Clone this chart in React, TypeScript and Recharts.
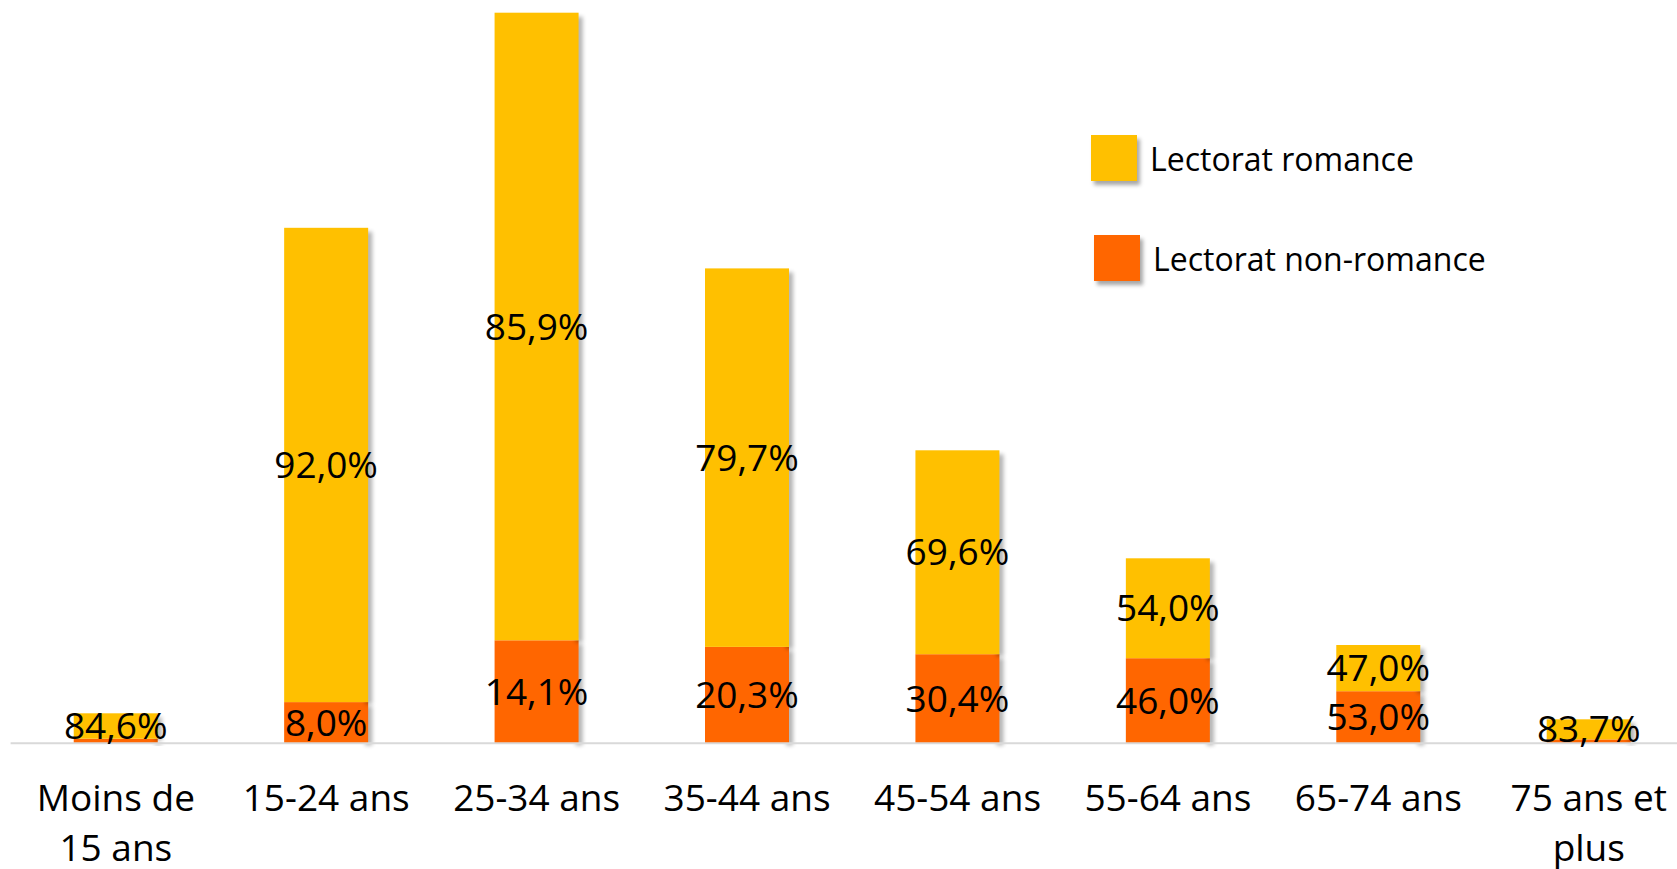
import { BarChart, Bar, XAxis, YAxis, LabelList, Legend } from "recharts";

const categories = [
  "Moins de 15 ans",
  "15-24 ans",
  "25-34 ans",
  "35-44 ans",
  "45-54 ans",
  "55-64 ans",
  "65-74 ans",
  "75 ans et plus",
];
const tickLines = [
  ["Moins de", "15 ans"],
  ["15-24 ans"],
  ["25-34 ans"],
  ["35-44 ans"],
  ["45-54 ans"],
  ["55-64 ans"],
  ["65-74 ans"],
  ["75 ans et", "plus"],
];
const romance = [25.4, 474.3, 627.6, 378.5, 203.9, 99.9, 46.2, 20.1];
const nonRomance = [4.6, 41.2, 103.0, 96.4, 89.1, 85.1, 52.1, 3.9];
const romanceLabels = ["84,6%", "92,0%", "85,9%", "79,7%", "69,6%", "54,0%", "47,0%", "83,7%"];
const nonRomanceLabels = ["", "8,0%", "14,1%", "20,3%", "30,4%", "46,0%", "53,0%", ""];

const colors = {
  romance: "#FFC000",
  nonRomance: "#FF6600",
  axis: "#D9D9D9",
  text: "#000000",
};

const data = categories.map((c, i) => ({
  name: c,
  romance: romance[i],
  nonRomance: nonRomance[i],
  romanceLabel: romanceLabels[i],
  nonRomanceLabel: nonRomanceLabels[i],
}));

const ShadowBar = (props: any) => {
  const { x, y, width, height, fill } = props;
  if (!height || height <= 0) return null;
  return (
    <g>
      <rect
        x={x + width - 3}
        y={y + 4}
        width={7}
        height={Math.max(height - 2, 0)}
        fill="#000"
        opacity={0.3}
        filter="url(#barShadow)"
      />
      <rect x={x} y={y} width={width} height={height} fill={fill} />
    </g>
  );
};

const CategoryTick = (props: any) => {
  const { x, y, index } = props;
  const lines = tickLines[index] || [String(props.payload?.value)];
  return (
    <text
      x={x}
      y={y + 68}
      textAnchor="middle"
      fill={colors.text}
      fontSize={37}
      fontFamily="'Open Sans', sans-serif"
    >
      {lines.map((l: string, i: number) => (
        <tspan key={i} x={x} dy={i === 0 ? 0 : 50}>
          {l}
        </tspan>
      ))}
    </text>
  );
};

const legendOrder = ["Lectorat romance", "Lectorat non-romance"];

const LegendContent = (props: any) => {
  const items = [...(props.payload || [])].sort(
    (a: any, b: any) => legendOrder.indexOf(a.value) - legendOrder.indexOf(b.value)
  );
  return (
    <div style={{ fontFamily: "'Open Sans', sans-serif" }}>
      {items.map((it: any, i: number) => (
        <div
          key={it.value}
          style={{
            display: "flex",
            alignItems: "center",
            height: 46,
            marginTop: i === 0 ? 0 : 54,
            marginLeft: i * 3,
          }}
        >
          <div
            style={{
              width: 46,
              height: 46,
              background: it.color,
              boxShadow: "3px 4px 4px rgba(0,0,0,0.35)",
              marginRight: 13,
            }}
          />
          <span style={{ fontSize: 32, color: colors.text, whiteSpace: "nowrap" }}>
            {it.value}
          </span>
        </div>
      ))}
    </div>
  );
};

export default function App() {
  return (
    <div
      style={{
        position: "absolute",
        left: 0,
        top: 0,
        width: 1677,
        height: 869,
        overflow: "hidden",
        background: "#fff",
        fontFamily: "'Open Sans', sans-serif",
      }}
    >
      <svg width={0} height={0} style={{ position: "absolute" }}>
        <defs>
          <filter id="barShadow" x="-100%" y="-10%" width="300%" height="120%">
            <feGaussianBlur stdDeviation="2" />
          </filter>
        </defs>
      </svg>
      <BarChart
        width={1694}
        height={869}
        data={data}
        margin={{ top: 0, right: 0, left: 10.6, bottom: 0 }}
        barCategoryGap="30%"
      >
        <XAxis
          dataKey="name"
          height={125.7}
          axisLine={{ stroke: colors.axis, strokeWidth: 2 }}
          tickLine={false}
          tickSize={0}
          tickMargin={0}
          interval={0}
          tick={<CategoryTick />}
        />
        <YAxis hide domain={[0, 743.3]} />
        <Legend
          layout="horizontal"
          verticalAlign="middle"
          align="center"
          content={<LegendContent />}
          wrapperStyle={{ left: 1091, top: 135, width: "auto" }}
        />
        <Bar
          dataKey="nonRomance"
          name="Lectorat non-romance"
          stackId="a"
          fill={colors.nonRomance}
          shape={<ShadowBar />}
          isAnimationActive={false}
        >
          <LabelList
            dataKey="nonRomanceLabel"
            position="center"
            fill={colors.text}
            fontSize={37}
            fontFamily="'Open Sans', sans-serif"
          />
        </Bar>
        <Bar
          dataKey="romance"
          name="Lectorat romance"
          stackId="a"
          fill={colors.romance}
          shape={<ShadowBar />}
          isAnimationActive={false}
        >
          <LabelList
            dataKey="romanceLabel"
            position="center"
            fill={colors.text}
            fontSize={37}
            fontFamily="'Open Sans', sans-serif"
          />
        </Bar>
      </BarChart>
    </div>
  );
}
